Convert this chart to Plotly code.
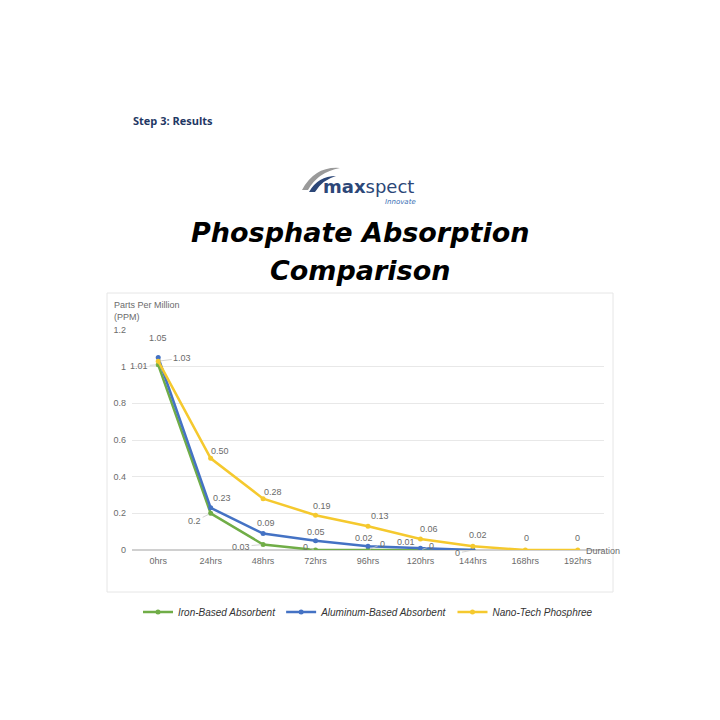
import plotly.graph_objects as go

# ---- data ----
durations = ["0hrs", "24hrs", "48hrs", "72hrs", "96hrs", "120hrs", "144hrs", "168hrs", "192hrs"]
iron = [1.01, 0.2, 0.03, 0, 0, 0, 0]
aluminum = [1.05, 0.23, 0.09, 0.05, 0.02, 0.01, 0]
nanotech = [1.03, 0.50, 0.28, 0.19, 0.13, 0.06, 0.02, 0, 0]
iron_labels = ["1.01", "0.2", "0.03", "0", "0", "0", ""]
aluminum_labels = ["1.05", "0.23", "0.09", "0.05", "0.02", "0.01", "0"]
nanotech_labels = ["1.03", "0.50", "0.28", "0.19", "0.13", "0.06", "0.02", "0", "0"]
y_ticks = [0, 0.2, 0.4, 0.6, 0.8, 1, 1.2]
y_tick_text = ["0", "0.2", "0.4", "0.6", "0.8", "1", "1.2"]

# label placement (pixel offsets from point, leader line flag)
iron_off = [(-19, -1, True), (-16, -8, True), (-22, -2, True), (-10, 3, True), (14, 6, True), (11, 4, True), None]
alu_off = [(0, 20, False), (11, 10, False), (3, 11, False), (0, 9, False), (-4, 8, False), (-14, 6, False), (-15, -3, True)]
nano_off = [(24, 3, True), (9, 7, False), (10, 7, False), (6, 9, False), (12, 10, False), (9, 10, False), (5, 11, False), (1, 12, False), (0, 12, False)]

GREEN = "#70ad47"
BLUE = "#4472c4"
YELLOW = "#f5c92e"
LABEL = "#6b6b6b"

OFF = 8          # page body margin
FW, FH = 704, 704

fig = go.Figure()
fig.add_trace(go.Scatter(x=durations[:len(iron)], y=iron, name="Iron-Based Absorbent",
                         mode="lines+markers", line=dict(color=GREEN, width=2.5),
                         marker=dict(size=5, color=GREEN)))
fig.add_trace(go.Scatter(x=durations[:len(aluminum)], y=aluminum, name="Aluminum-Based Absorbent",
                         mode="lines+markers", line=dict(color=BLUE, width=2.5),
                         marker=dict(size=5, color=BLUE)))
fig.add_trace(go.Scatter(x=durations, y=nanotech, name="Nano-Tech Phosphree",
                         mode="lines+markers", line=dict(color=YELLOW, width=2.5),
                         marker=dict(size=5, color=YELLOW)))

annotations = []
for xs, ys, labs, offs in [(durations, iron, iron_labels, iron_off),
                           (durations, aluminum, aluminum_labels, alu_off),
                           (durations, nanotech, nanotech_labels, nano_off)]:
    for i, (v, lab) in enumerate(zip(ys, labs)):
        o = offs[i]
        if o is None or lab == "":
            continue
        dx, dy, lead = o
        if lead:
            annotations.append(dict(x=xs[i], y=v, xref="x", yref="y", text=lab,
                                    showarrow=True, arrowhead=0, arrowwidth=0.8,
                                    arrowcolor="#c8c8c8", ax=dx, ay=-dy, standoff=2,
                                    font=dict(size=9, color=LABEL, family="Liberation Sans")))
        else:
            annotations.append(dict(x=xs[i], y=v, xref="x", yref="y", text=lab,
                                    showarrow=False, xshift=dx, yshift=dy,
                                    font=dict(size=9, color=LABEL, family="Liberation Sans")))

# plot area in page pixels
L, R, T, B = 132, 604, 330, 550
W, H = R - L, B - T
def px(xp):
    return (xp - L) / W
def py(yp):
    return (B - yp) / H

annotations += [
    dict(x=px(112), y=py(298), xref="paper", yref="paper", xanchor="left", yanchor="top",
         text="Parts Per Million<br>(PPM)", showarrow=False, align="left",
         font=dict(size=9, color="#6b6b6b", family="Liberation Sans")),
    dict(x=px(584), y=py(551), xref="paper", yref="paper", xanchor="left", yanchor="middle",
         text="Duration", showarrow=False,
         font=dict(size=9, color="#6b6b6b", family="Liberation Sans")),
    dict(x=px(131), y=py(120), xref="paper", yref="paper", xanchor="left", yanchor="middle",
         text="<b>Step 3: Results</b>", showarrow=False,
         font=dict(size=11, color="#1f3864", family="Open Sans")),
    dict(x=px(360), y=py(232), xref="paper", yref="paper", xanchor="center", yanchor="middle",
         text="<b><i>Phosphate Absorption</i></b>", showarrow=False,
         font=dict(size=27, color="#000000", family="DejaVu Sans")),
    dict(x=px(360), y=py(270), xref="paper", yref="paper", xanchor="center", yanchor="middle",
         text="<b><i>Comparison</i></b>", showarrow=False,
         font=dict(size=27, color="#000000", family="DejaVu Sans")),
    dict(x=px(321), y=py(186), xref="paper", yref="paper", xanchor="left", yanchor="middle",
         text="<b>max</b>spect", showarrow=False,
         font=dict(size=18, color="#2c4778", family="DejaVu Sans")),
    dict(x=px(418), y=py(202), xref="paper", yref="paper", xanchor="right", yanchor="middle",
         text="<i>Innovate</i>", showarrow=False,
         font=dict(size=7, color="#3a6fb5", family="DejaVu Sans")),
]

def seg(x0, y0, x1, y1):
    return dict(x0=px(x0), x1=px(x1), y0=py(y0), y1=py(y1))

shapes = [
    dict(type="rect", xref="paper", yref="paper", **seg(107, 293, 613, 592),
         line=dict(color="#e6e6e6", width=1), fillcolor="rgba(0,0,0,0)", layer="below"),
    # logo swooshes
    dict(type="path", xref="paper", yref="paper",
         path="M %f,%f Q %f,%f %f,%f Q %f,%f %f,%f Z" % (
             px(302), py(190), px(315), py(166), px(340), py(168),
             px(318), py(172), px(308), py(190)),
         fillcolor="#9a9a9a", line=dict(width=0)),
    dict(type="path", xref="paper", yref="paper",
         path="M %f,%f Q %f,%f %f,%f Q %f,%f %f,%f Z" % (
             px(309), py(192), px(318), py(176), px(336), py(176),
             px(322), py(180), px(315), py(192)),
         fillcolor="#2c4778", line=dict(width=0)),
]

fig.update_layout(
    width=FW, height=FH,
    margin=dict(l=L - OFF, r=FW - (R - OFF), t=T - OFF, b=FH - (B - OFF)),
    paper_bgcolor="white", plot_bgcolor="white",
    showlegend=True,
    legend=dict(orientation="h", x=0.5, xanchor="center", y=py(612), yanchor="middle",
                font=dict(size=10, color="#333333", family="Liberation Sans", style="italic"),
                itemwidth=30, traceorder="normal", tracegroupgap=0),
    annotations=annotations,
    shapes=shapes,
    xaxis=dict(type="category", categoryorder="array", categoryarray=durations,
               range=[-0.5, 8.5], showgrid=False, showline=False, zeroline=False,
               ticks="", ticklabelstandoff=4,
               tickfont=dict(size=9, color="#6b6b6b", family="Liberation Sans")),
    yaxis=dict(range=[0, 1.2], tickvals=y_ticks, ticktext=y_tick_text,
               showgrid=True, gridcolor="#e8e8e8", gridwidth=1, zeroline=True,
               zerolinecolor="#d0d0d0", showline=False, ticks="", ticklabelstandoff=5,
               tickfont=dict(size=9, color="#6b6b6b", family="Liberation Sans")),
)

fig.write_html("out.html")
